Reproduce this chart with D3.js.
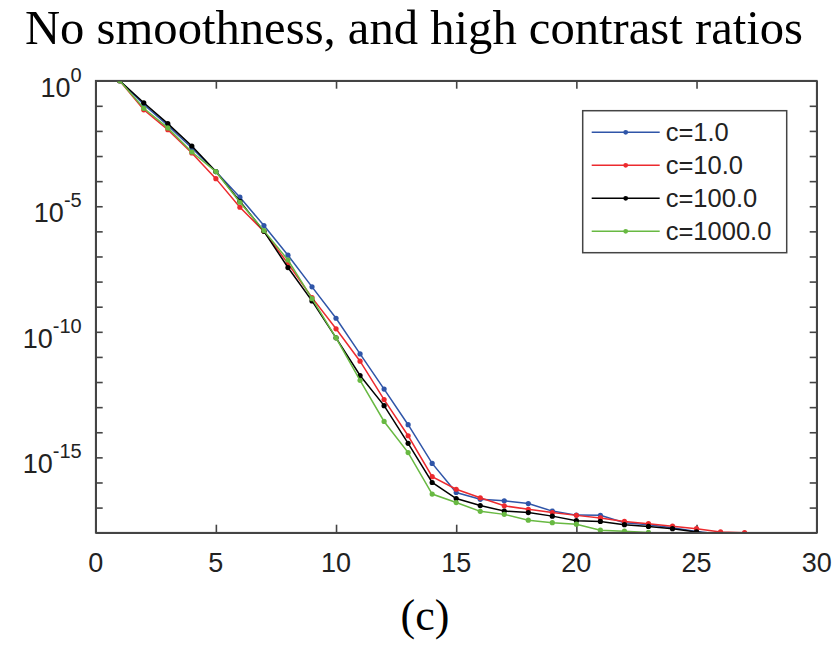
<!DOCTYPE html>
<html>
<head>
<meta charset="utf-8">
<script src="https://cdn.jsdelivr.net/npm/d3@7"></script>
<style>
  body { margin: 0; background: #fff; }
  .axis path, .axis line { stroke: #444; stroke-width: 1.6; }
</style>
</head>
<body>
<script>
var iters = d3.range(1, 29)

var seriesNames = ["c=1.0", "c=10.0", "c=100.0", "c=1000.0"]
var seriesColors = ["#2f55a8", "#ec2a2e", "#000000", "#68b942"]

var expC1 = [0, -0.95, -1.78, -2.68, -3.62, -4.64, -5.77, -6.95, -8.21, -9.46,
             -10.88, -12.28, -13.7, -15.24, -16.4, -16.67, -16.73, -16.84, -17.14, -17.3,
             -17.31, -17.6, -17.68, -17.8, -17.95, -18.06]
var expC10 = [0, -1.16, -1.95, -2.88, -3.9, -5.04, -6.0, -7.28, -8.64, -9.88,
              -11.17, -12.7, -14.14, -15.77, -16.27, -16.61, -16.93, -17.07, -17.2, -17.31,
              -17.41, -17.55, -17.64, -17.74, -17.84, -17.97, -18.0, -18.1]
var expC100 = [0, -0.88, -1.71, -2.6, -3.62, -4.8, -6.0, -7.44, -8.77, -10.24,
               -11.74, -12.94, -14.44, -16.0, -16.64, -16.92, -17.14, -17.2, -17.34, -17.52,
               -17.55, -17.68, -17.75, -17.84, -17.97, -18.1]
var expC1000 = [0, -1.1, -1.88, -2.84, -3.62, -4.84, -5.97, -7.14, -8.68, -10.24,
                -11.93, -13.57, -14.81, -16.46, -16.8, -17.15, -17.27, -17.5, -17.6, -17.66,
                -17.9, -17.94, -17.99, -18.1]

var xTicks = [0, 5, 10, 15, 20, 25, 30]
var yDecades = d3.range(-18, 1)
var yLabelExps = [0, -5, -10, -15]

var allExps = [expC1, expC10, expC100, expC1000]

var screen = {width: 836, height: 645}
var margins = {top: 80.7, left: 95.7, right: 19.3, bottom: 112.3}
var width = screen.width - margins.left - margins.right
var height = screen.height - margins.top - margins.bottom

var xScale = d3.scaleLinear().domain([0, 30]).range([0, width])
var yScale = d3.scaleLog().domain([1e-18, 1]).range([height, 0])

var svg = d3.select("body").append("svg")
    .attr("width", screen.width)
    .attr("height", screen.height)

var serif = "'Liberation Serif', 'Times New Roman', serif"

svg.append("text")
    .attr("x", 25).attr("y", 44)
    .attr("textLength", 778)
    .attr("lengthAdjust", "spacingAndGlyphs")
    .style("font-family", serif)
    .style("font-size", "48px")
    .text("No smoothness, and high contrast ratios")

svg.append("text")
    .attr("x", 425).attr("y", 630)
    .attr("text-anchor", "middle")
    .style("font-family", serif)
    .style("font-size", "44px")
    .text("(c)")

var plot = svg.append("g")
    .attr("transform", "translate(" + margins.left + "," + margins.top + ")")

plot.append("clipPath").attr("id", "clip")
    .append("rect").attr("width", width).attr("height", height)

var decadeVals = yDecades.map(function(e) { return Math.pow(10, e) })

// axes with ticks pointing inward on all four sides
plot.append("g").attr("class", "axis")
    .attr("transform", "translate(0," + height + ")")
    .call(d3.axisBottom(xScale).tickValues(xTicks).tickSizeInner(-8).tickSizeOuter(0).tickFormat(""))
plot.append("g").attr("class", "axis")
    .call(d3.axisTop(xScale).tickValues(xTicks).tickSizeInner(-8).tickSizeOuter(0).tickFormat(""))
plot.append("g").attr("class", "axis")
    .call(d3.axisLeft(yScale).tickValues(decadeVals).tickSizeInner(-7).tickSizeOuter(0).tickFormat(""))
plot.append("g").attr("class", "axis")
    .attr("transform", "translate(" + width + ",0)")
    .call(d3.axisRight(yScale).tickValues(decadeVals).tickSizeInner(-7).tickSizeOuter(0).tickFormat(""))

var labelFont = "'Liberation Sans', Arial, Helvetica, sans-serif"

plot.selectAll(".xlab")
    .data(xTicks)
    .enter().append("text")
    .attr("class", "xlab")
    .attr("x", function(d) { return xScale(d) })
    .attr("y", height + 39.5)
    .attr("text-anchor", "middle")
    .style("font-family", labelFont)
    .style("font-size", "27px")
    .style("fill", "#222")
    .text(function(d) { return d })

var ylab = plot.selectAll(".ylab")
    .data(yLabelExps)
    .enter().append("text")
    .attr("class", "ylab")
    .attr("x", -14)
    .attr("y", function(d) { return yScale(Math.pow(10, d)) + 16 })
    .attr("text-anchor", "end")
    .style("font-family", labelFont)
    .style("font-size", "27px")
    .style("fill", "#222")
ylab.append("tspan").text("10")
ylab.append("tspan")
    .attr("dy", -15)
    .style("font-size", "20px")
    .text(function(d) { return d })

var line = d3.line()
    .x(function(d, i) { return xScale(iters[i]) })
    .y(function(d) { return yScale(Math.pow(10, d)) })

var curves = plot.append("g").attr("clip-path", "url(#clip)")

allExps.forEach(function(exps, k) {
    curves.append("path")
        .datum(exps)
        .attr("d", line)
        .attr("fill", "none")
        .attr("stroke", seriesColors[k])
        .attr("stroke-width", 1.5)
    curves.selectAll(".pt" + k)
        .data(exps)
        .enter().append("circle")
        .attr("class", "pt" + k)
        .attr("cx", function(d, i) { return xScale(iters[i]) })
        .attr("cy", function(d) { return yScale(Math.pow(10, d)) })
        .attr("r", 2.6)
        .attr("fill", seriesColors[k])
})

// outer box
plot.append("rect")
    .attr("width", width).attr("height", height)
    .attr("fill", "none").attr("stroke", "#444").attr("stroke-width", 1.6)

// legend
var legend = svg.append("g").attr("transform", "translate(582.7,110.7)")
legend.append("rect")
    .attr("width", 204).attr("height", 142)
    .attr("fill", "#fff").attr("stroke", "#444").attr("stroke-width", 1.5)

var rows = legend.selectAll(".row")
    .data(seriesNames)
    .enter().append("g")
    .attr("class", "row")
    .attr("transform", function(d, i) { return "translate(0," + (21.6 + i * 33) + ")" })
rows.append("line")
    .attr("x1", 9).attr("x2", 77)
    .attr("stroke", function(d, i) { return seriesColors[i] })
    .attr("stroke-width", 1.5)
rows.append("circle")
    .attr("cx", 43).attr("r", 2.4)
    .attr("fill", function(d, i) { return seriesColors[i] })
rows.append("text")
    .attr("x", 83).attr("y", 9)
    .style("font-family", labelFont)
    .style("font-size", "25.5px")
    .style("fill", "#222")
    .text(function(d) { return d })
</script>
</body>
</html>
